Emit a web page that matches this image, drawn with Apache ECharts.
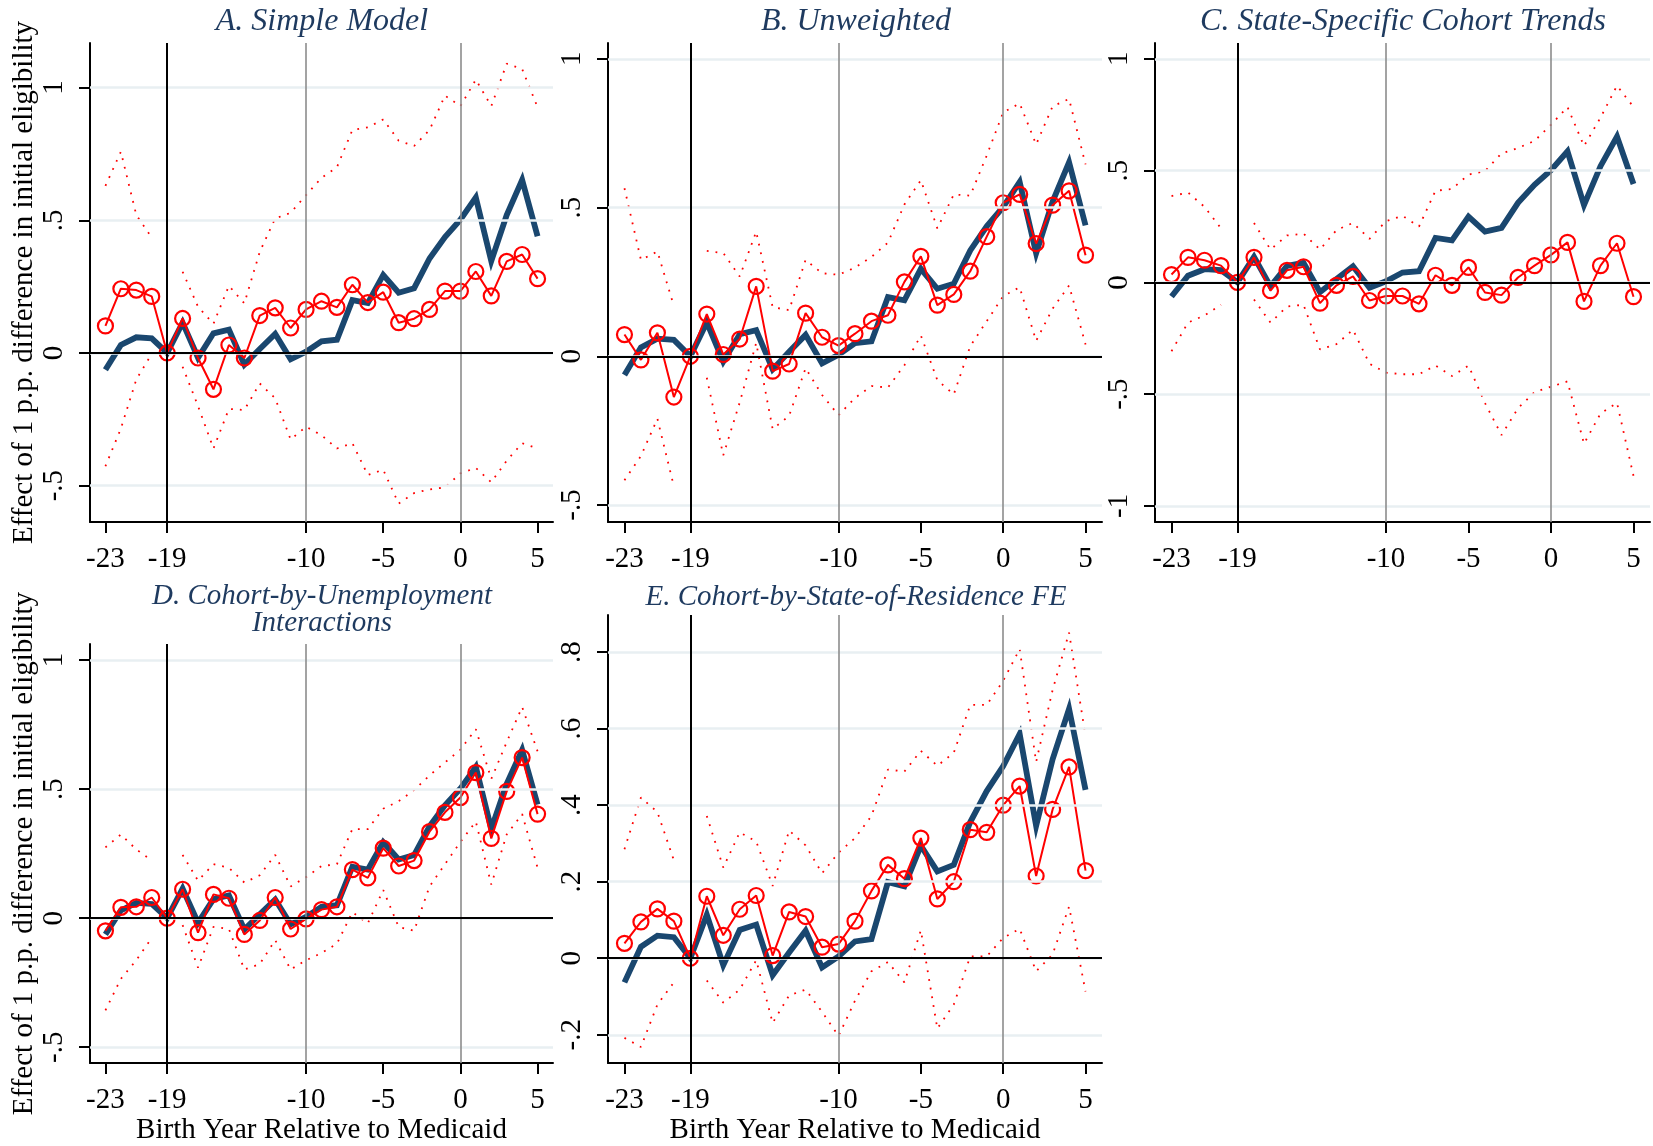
<!DOCTYPE html>
<html>
<head>
<meta charset="utf-8">
<script src="https://cdn.jsdelivr.net/npm/echarts@6/dist/echarts.min.js"></script>
<style>
html,body{margin:0;padding:0;background:#fff;}
#chart{width:1653px;height:1146px;}
</style>
</head>
<body>
<div id="chart"></div>
<script>
// ---------- DATA ----------
const years = [-23,-22,-21,-20,-19,-18,-17,-16,-15,-14,-13,-12,-11,-10,-9,-8,-7,-6,-5,-4,-3,-2,-1,0,1,2,3,4,5];
const xTicks = [-23,-19,-10,-5,0,5];
const yTicksABD = [-0.5,0,0.5,1];
const yTicksC = [-1,-0.5,0,0.5,1];
const yTicksE = [-0.2,0,0.2,0.4,0.6,0.8];
const refLinesX = [-19,-10,0];

const panelTitles = ['A. Simple Model','B. Unweighted','C. State-Specific Cohort Trends','D. Cohort-by-Unemployment\nInteractions','E. Cohort-by-State-of-Residence FE'];
const yTitle = 'Effect of 1 p.p. difference in initial eligibility';
const xTitle = 'Birth Year Relative to Medicaid';

// baseline estimate (thick navy line, same in every panel)
const baseline = [-0.063,0.03,0.059,0.055,0,0.114,-0.018,0.074,0.088,-0.044,0.015,0.072,-0.024,0.005,0.044,0.05,0.199,0.188,0.294,0.227,0.244,0.356,0.437,0.502,0.586,0.346,0.52,0.652,0.44];

const estA = [0.102,0.242,0.237,0.213,0,0.13,-0.019,-0.137,0.03,-0.019,0.141,0.17,0.094,0.164,0.195,0.172,0.257,0.19,0.229,0.114,0.129,0.164,0.233,0.233,0.307,0.215,0.345,0.371,0.28];
const upA  = [0.63,0.758,0.52,0.435,null,0.306,0.174,0.11,0.253,0.187,0.381,0.507,0.528,0.595,0.66,0.70,0.84,0.85,0.88,0.80,0.78,0.84,0.97,0.93,1.03,0.93,1.09,1.07,0.926];
const loA  = [-0.427,-0.285,-0.1,-0.003,null,-0.052,-0.2,-0.36,-0.211,-0.215,-0.115,-0.171,-0.326,-0.278,-0.31,-0.36,-0.34,-0.46,-0.44,-0.568,-0.528,-0.514,-0.507,-0.454,-0.433,-0.487,-0.406,-0.34,-0.36];

const estB = [0.073,-0.012,0.079,-0.137,0,0.142,0.006,0.058,0.235,-0.05,-0.026,0.145,0.064,0.036,0.076,0.118,0.138,0.25,0.336,0.172,0.208,0.286,0.402,0.516,0.544,0.379,0.508,0.556,0.34];
const upB  = [0.565,0.324,0.352,0.169,null,0.354,0.347,0.268,0.419,0.165,0.155,0.324,0.279,0.274,0.298,0.334,0.382,0.51,0.592,0.43,0.544,0.54,0.675,0.82,0.85,0.712,0.84,0.865,0.645];
const loB  = [-0.417,-0.335,-0.21,-0.437,null,-0.072,-0.333,-0.155,0.045,-0.245,-0.2,-0.04,-0.13,-0.198,-0.14,-0.1,-0.105,-0.03,0.07,-0.08,-0.128,0.034,0.118,0.202,0.232,0.052,0.16,0.238,0.04];

const estC = [0.035,0.112,0.099,0.075,0,0.112,-0.037,0.054,0.07,-0.093,-0.013,0.027,-0.081,-0.061,-0.061,-0.096,0.032,-0.013,0.067,-0.045,-0.057,0.022,0.075,0.123,0.179,-0.085,0.075,0.175,-0.064];
const upC  = [0.386,0.402,0.338,0.242,null,0.266,0.147,0.21,0.218,0.147,0.234,0.266,0.195,0.274,0.298,0.25,0.41,0.418,0.482,0.498,0.577,0.601,0.633,0.705,0.785,0.61,0.737,0.88,0.785];
const loC  = [-0.308,-0.18,-0.148,-0.1,null,-0.077,-0.18,-0.108,-0.1,-0.3,-0.276,-0.212,-0.364,-0.404,-0.411,-0.411,-0.372,-0.419,-0.372,-0.54,-0.683,-0.563,-0.491,-0.467,-0.443,-0.722,-0.587,-0.539,-0.866];

const estD = [-0.049,0.042,0.044,0.08,0,0.112,-0.056,0.092,0.077,-0.063,-0.009,0.08,-0.042,-0.003,0.033,0.044,0.188,0.156,0.271,0.202,0.223,0.335,0.41,0.467,0.564,0.309,0.491,0.622,0.403];
const upD  = [0.274,0.324,0.266,0.224,null,0.245,0.145,0.209,0.195,0.138,0.166,0.245,0.123,0.159,0.202,0.209,0.345,0.345,0.424,0.453,0.496,0.553,0.603,0.653,0.732,0.539,0.682,0.818,0.646];
const loD  = [-0.357,-0.235,-0.163,-0.077,null,-0.027,-0.192,-0.034,-0.042,-0.199,-0.178,-0.085,-0.199,-0.163,-0.135,-0.099,0.023,-0.02,0.109,-0.034,-0.049,0.123,0.209,0.295,0.374,0.13,0.324,0.403,0.195];

const estE = [0.039,0.095,0.129,0.097,0,0.162,0.06,0.128,0.164,0.007,0.121,0.109,0.029,0.037,0.097,0.176,0.244,0.208,0.314,0.155,0.2,0.336,0.329,0.4,0.45,0.215,0.389,0.5,0.229];
const upE  = [0.285,0.42,0.382,0.256,null,0.372,0.237,0.329,0.305,0.189,0.334,0.295,0.222,0.276,0.314,0.372,0.493,0.488,0.542,0.503,0.537,0.662,0.662,0.725,0.808,0.513,0.701,0.851,0.58];
const loE  = [-0.208,-0.232,-0.121,-0.063,null,-0.058,-0.116,-0.082,-0.005,-0.169,-0.097,-0.082,-0.14,-0.203,-0.111,-0.034,-0.01,-0.063,0.073,-0.184,-0.121,0.005,0.005,0.053,0.077,-0.034,0.01,0.135,-0.087];

// ---------- LAYOUT / STYLE ----------
const FONT = "'Liberation Serif','Times New Roman',serif";
const NAVY = '#1a476f';
const RED = '#ff0000';
const TITLE_C = '#1e3a5f';
const FS = 29;

const panels = [
  {est:estA, up:upA, lo:loA, ticks:yTicksABD, left:90,  top:43,  width:463, height:479, ymin:-0.637, ymax:1.168, ytitle:true,  xtitle:false, tx:322,  ty:22,  tsize:32},
  {est:estB, up:upB, lo:loB, ticks:yTicksABD, left:608, top:43,  width:494, height:479, ymin:-0.557, ymax:1.053, ytitle:false, xtitle:false, tx:856,  ty:22,  tsize:32},
  {est:estC, up:upC, lo:loC, ticks:yTicksC,   left:1155,top:43,  width:495, height:479, ymin:-1.072, ymax:1.071, ytitle:false, xtitle:false, tx:1403, ty:22,  tsize:32},
  {est:estD, up:upD, lo:loD, ticks:yTicksABD, left:90,  top:644, width:463, height:424, ymin:-0.5615,ymax:1.062, ytitle:true,  xtitle:true,  tx:322,  ty:610, tsize:29},
  {est:estE, up:upE, lo:loE, ticks:yTicksE,   left:608, top:615, width:494, height:453, ymin:-0.274, ymax:0.897, ytitle:false, xtitle:true,  tx:856,  ty:597, tsize:29}
];

function fmtY(v){
  let s = String(Math.round(v*10)/10);
  return s.replace(/^(-?)0\./,'$1.');
}
function pairs(arr){
  return years.map((x,i)=>[x, arr[i]===null ? '-' : arr[i]]);
}

const grid=[], xAxis=[], yAxis=[], series=[], graphic=[];
panels.forEach((p,i)=>{
  grid.push({left:p.left, top:p.top, width:p.width, height:p.height, containLabel:false});
  xAxis.push({
    type:'value', gridIndex:i, min:-24, max:6,
    name: p.xtitle ? xTitle : '', nameLocation:'middle', nameGap:44,
    nameTextStyle:{fontFamily:FONT, fontSize:FS, color:'#000'},
    axisLine:{show:true, onZero:false, lineStyle:{color:'#000', width:2}},
    axisTick:{show:true, length:11, lineStyle:{color:'#000', width:2}, customValues:xTicks},
    axisLabel:{show:true, margin:23, fontFamily:FONT, fontSize:FS, color:'#000', customValues:xTicks},
    splitLine:{show:false}
  });
  yAxis.push({
    type:'value', gridIndex:i, min:p.ymin, max:p.ymax,
    name: p.ytitle ? yTitle : '', nameLocation:'middle', nameGap:50, nameRotate:90,
    nameTextStyle:{fontFamily:FONT, fontSize:FS, color:'#000'},
    axisLine:{show:true, onZero:false, lineStyle:{color:'#000', width:2}},
    axisTick:{show:true, length:11, lineStyle:{color:'#000', width:2}, customValues:p.ticks},
    axisLabel:{show:true, rotate:90, margin:21, fontFamily:FONT, fontSize:FS, color:'#000', customValues:p.ticks, formatter:fmtY},
    splitLine:{show:false}
  });
  const ml = [];
  p.ticks.forEach(v=>ml.push({yAxis:v, lineStyle:{color:'#e8eff2', width:2.5, type:'solid'}}));
  refLinesX.forEach(v=>ml.push({xAxis:v, lineStyle:{color: v===-19 ? '#000' : '#8c8c8c', width: v===-19 ? 2 : 1.6, type:'solid'}}));
  ml.push({yAxis:0, lineStyle:{color:'#000', width:2, type:'solid'}});
  series.push({
    type:'line', xAxisIndex:i, yAxisIndex:i, data:[], z:1, silent:true, symbol:'none',
    markLine:{silent:true, symbol:['none','none'], label:{show:false}, animation:false, data:ml}
  });
  [p.up, p.lo].forEach(ci=>{
    series.push({
      type:'line', xAxisIndex:i, yAxisIndex:i, data:pairs(ci), z:2, symbol:'none', connectNulls:false,
      lineStyle:{color:RED, width:1.8, type:[1.8,7]}
    });
  });
  series.push({
    type:'line', xAxisIndex:i, yAxisIndex:i, data:pairs(baseline), z:3, symbol:'none',
    lineStyle:{color:NAVY, width:5.8, join:'miter'}
  });
  series.push({
    type:'line', xAxisIndex:i, yAxisIndex:i, data:pairs(p.est), z:4,
    symbol:'circle', symbolSize:15, color:RED,
    lineStyle:{color:RED, width:2},
    itemStyle:{color:'rgba(255,255,255,0)', borderColor:RED, borderWidth:2.2}
  });
  graphic.push({
    type:'text', x:p.tx, y:p.ty, silent:true,
    style:{text:panelTitles[i], fill:TITLE_C, font:'italic '+p.tsize+'px '+FONT, textAlign:'center', textVerticalAlign:'middle', lineHeight:27}
  });
});

const chart = echarts.init(document.getElementById('chart'), null, {renderer:'canvas'});
chart.setOption({
  backgroundColor:'#ffffff',
  animation:false,
  grid, xAxis, yAxis, series, graphic
});
</script>
</body>
</html>
